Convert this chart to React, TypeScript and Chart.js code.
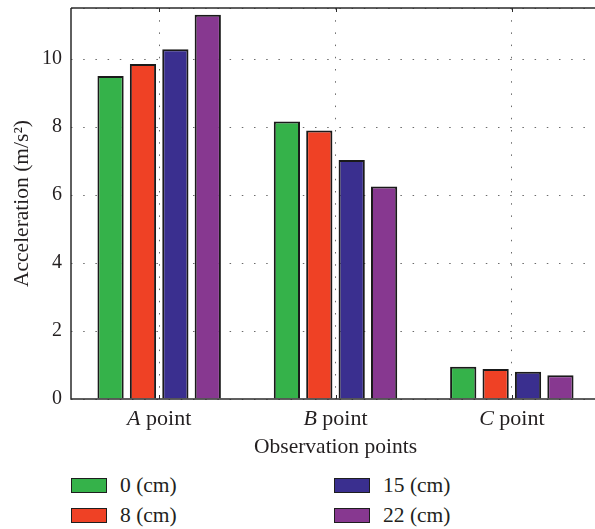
import React, { useEffect, useRef } from "react";
import { Chart, registerables } from "chart.js";

Chart.register(...registerables);

const categories = ["A", "B", "C"];
const categorySuffix = " point";
const seriesLabels = ["0 (cm)", "8 (cm)", "15 (cm)", "22 (cm)"];
const series0cm = [9.5, 8.16, 0.95];
const series8cm = [9.85, 7.9, 0.88];
const series15cm = [10.29, 7.03, 0.8];
const series22cm = [11.3, 6.25, 0.7];
const seriesColors = ["#35b24a", "#ef4125", "#3a2f8f", "#873890"];
const yLabelTicks = [0, 2, 4, 6, 8, 10];
const yMin = 0;
const yMax = 11.5;
const yTitle = "Acceleration (m/s²)";
const xTitle = "Observation points";

const FONT = '"Liberation Serif", "Times New Roman", serif';
const TEXT = "#231f20";
const W = 600;
const H = 460;

const framePlugin = {
  id: "framePlugin",
  afterDraw(chart: any) {
    const { ctx, chartArea: ca, scales } = chart;
    const x = scales.x;
    ctx.save();
    ctx.strokeStyle = "#2b2b2b";
    ctx.lineWidth = 1.5;
    ctx.beginPath();
    ctx.moveTo(ca.left, ca.top);
    ctx.lineTo(ca.right + 2, ca.top);
    ctx.moveTo(ca.left, ca.top);
    ctx.lineTo(ca.left, ca.bottom);
    ctx.lineTo(ca.right + 2, ca.bottom);
    ctx.stroke();
    ctx.lineWidth = 1;
    ctx.beginPath();
    categories.forEach((_, i) => {
      const px = Math.round(x.getPixelForTick(i)) + 0.5;
      ctx.moveTo(px, ca.top);
      ctx.lineTo(px, ca.top + 4);
      ctx.moveTo(px, ca.bottom);
      ctx.lineTo(px, ca.bottom - 4);
    });
    ctx.stroke();

    ctx.fillStyle = TEXT;
    ctx.textBaseline = "alphabetic";
    ctx.textAlign = "left";
    const italic = `italic 22px ${FONT}`;
    const normal = `22px ${FONT}`;
    categories.forEach((c, i) => {
      const px = x.getPixelForTick(i);
      ctx.font = italic;
      const w1 = ctx.measureText(c).width;
      ctx.font = normal;
      const w2 = ctx.measureText(categorySuffix).width;
      const start = px - (w1 + w2) / 2;
      ctx.font = italic;
      ctx.fillText(c, start, ca.bottom + 26);
      ctx.font = normal;
      ctx.fillText(categorySuffix, start + w1, ca.bottom + 26);
    });
    ctx.restore();
  },
};

export default function App() {
  const ref = useRef<HTMLCanvasElement | null>(null);

  useEffect(() => {
    const canvas = ref.current;
    if (!canvas) return;
    const seriesValues = [series0cm, series8cm, series15cm, series22cm];
    const chart = new Chart(canvas, {
      type: "bar",
      data: {
        labels: categories.map((c) => c + categorySuffix),
        datasets: seriesLabels.map((label, i) => ({
          label,
          data: seriesValues[i],
          backgroundColor: seriesColors[i],
          borderColor: "#1a1a1a",
          borderWidth: 2,
          categoryPercentage: 0.735,
          barPercentage: 0.81,
        })),
      },
      options: {
        responsive: false,
        animation: false,
        devicePixelRatio: 1,
        layout: { padding: { top: 8, left: 0, right: 0, bottom: 0 } },
        plugins: {
          legend: { display: false },
          tooltip: { enabled: false },
        },
        scales: {
          x: {
            type: "category",
            grid: {
              offset: false,
              color: "#6a6a6a",
              lineWidth: 1,
              drawTicks: false,
            },
            border: { display: false, dash: [1.5, 10.7] },
            ticks: { display: false },
            title: {
              display: true,
              text: xTitle,
              color: TEXT,
              font: { family: FONT, size: 21.5 },
              padding: { top: 0, bottom: 0 },
            },
            afterFit(scale: any) {
              scale.height = H - 399;
              scale.paddingLeft = 0;
              scale.paddingRight = 0;
            },
          },
          y: {
            type: "linear",
            min: yMin,
            max: yMax,
            grid: {
              color: "#6a6a6a",
              lineWidth: 1,
              drawTicks: false,
            },
            border: { display: false, dash: [1.5, 10.7] },
            ticks: {
              stepSize: 2,
              padding: 9,
              color: TEXT,
              font: { family: FONT, size: 20 },
              callback: (v: any) => (yLabelTicks.includes(Number(v)) ? String(v) : ""),
            },
            title: {
              display: true,
              text: yTitle,
              color: TEXT,
              font: { family: FONT, size: 21.5 },
              padding: { top: 9, bottom: 0 },
            },
            afterFit(scale: any) {
              scale.width = 71;
              scale.paddingTop = 0;
              scale.paddingBottom = 0;
            },
          },
        },
      },
      plugins: [framePlugin],
    });
    return () => chart.destroy();
  }, []);

  const legendPos = [
    { left: 71, top: 478 },
    { left: 71, top: 508 },
    { left: 334, top: 478 },
    { left: 334, top: 508 },
  ];

  return (
    <div
      style={{
        position: "fixed",
        left: 0,
        top: 0,
        width: 595,
        height: 529,
        overflow: "hidden",
        background: "#fff",
        fontFamily: FONT,
        color: TEXT,
      }}
    >
      <canvas ref={ref} width={W} height={H} style={{ display: "block", width: W, height: H }} />
      {seriesLabels.map((label, i) => (
        <React.Fragment key={label}>
          <div
            style={{
              position: "absolute",
              left: legendPos[i].left,
              top: legendPos[i].top,
              width: 36,
              height: 15,
              boxSizing: "border-box",
              background: seriesColors[i],
              border: "1.5px solid #1e1e1e",
            }}
          />
          <div
            style={{
              position: "absolute",
              left: legendPos[i].left + 49,
              top: legendPos[i].top - 4,
              fontSize: 21.5,
              lineHeight: "23px",
              whiteSpace: "nowrap",
            }}
          >
            {label}
          </div>
        </React.Fragment>
      ))}
    </div>
  );
}
